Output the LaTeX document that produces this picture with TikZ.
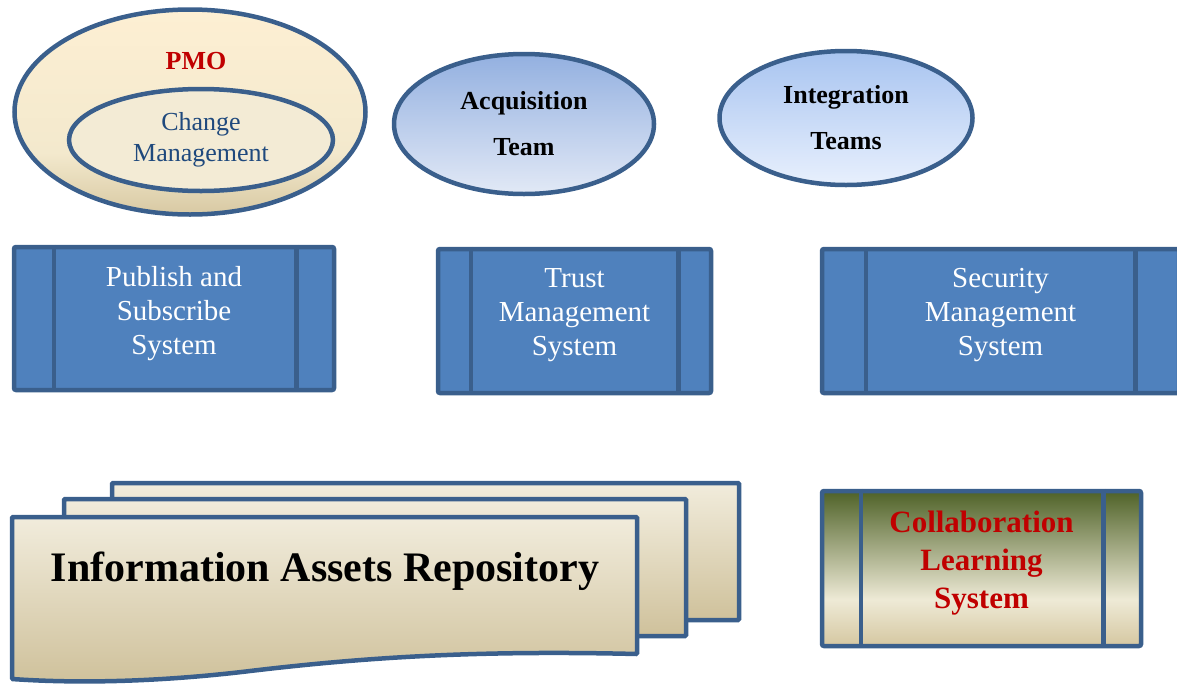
\documentclass[tikz,border=0pt]{standalone}
\usepackage{fontspec}
\setmainfont{Liberation Serif}
\usetikzlibrary{shapes.geometric}
\definecolor{edgeblue}{HTML}{3A5F8C}
\definecolor{boxblue}{HTML}{4F81BD}
\definecolor{pmored}{HTML}{C00000}
\definecolor{cmtext}{HTML}{1F497D}
\definecolor{creamtop}{HTML}{FDEFD3}
\definecolor{creammid}{HTML}{F3E9CD}
\definecolor{creambot}{HTML}{D8C9A3}
\definecolor{innerfill}{HTML}{F3EBD5}
\definecolor{acqtop}{HTML}{93B0E0}
\definecolor{acqbot}{HTML}{E2E9F6}
\definecolor{integtop}{HTML}{A8C4F0}
\definecolor{integbot}{HTML}{E8F0FD}
\definecolor{papertop}{HTML}{F1ECDC}
\definecolor{paperbot}{HTML}{CFC19B}
\definecolor{coltop}{HTML}{4F6228}
\definecolor{colmid}{HTML}{EEEAD6}
\definecolor{colbot}{HTML}{D5C7A1}
\pgfdeclareverticalshading{collabfill}{100bp}{color(0bp)=(colbot); color(25bp)=(colbot); color(40bp)=(colmid); color(75bp)=(coltop); color(100bp)=(coltop)}
\pgfdeclareverticalshading{pmofill}{100bp}{color(0bp)=(creambot); color(25bp)=(creambot); color(40bp)=(creammid); color(75bp)=(creamtop); color(100bp)=(creamtop)}
\tikzset{
	team/.style={ellipse, draw=edgeblue, line width=4.5pt, inner sep=0pt, align=center},
	sysbox/.style={rectangle, draw=edgeblue, line width=4.5pt, rounded corners=2pt, inner sep=0pt},
	divider/.style={edgeblue, line width=4.5pt},
	systext/.style={align=center, text=white, font=\fontsize{29}{34}\selectfont},
	paper/.style={draw=edgeblue, line width=4.5pt, rounded corners=1pt, top color=papertop, bottom color=paperbot}
}
\begin{document}
\begin{tikzpicture}[x=1pt, y=-1pt]
	\useasboundingbox (0,0) rectangle (1177,683);

	\node[team, minimum width=351pt, minimum height=205pt, shading=pmofill] (pmo) at (190,112) {};
	\node[text=pmored, font=\bfseries\fontsize{26}{31}\selectfont] (pmolabel) at (196,61) {PMO};
	\node[team, minimum width=264pt, minimum height=102pt, fill=innerfill, text=cmtext, font=\fontsize{26}{31}\selectfont] (change) at (201,140) {Change\\Management};

	\node[team, minimum width=260pt, minimum height=140pt, top color=acqtop, bottom color=acqbot, font=\bfseries\fontsize{26}{46}\selectfont] (acq) at (524,124) {Acquisition\\Team};
	\node[team, minimum width=253pt, minimum height=134pt, top color=integtop, bottom color=integbot, font=\bfseries\fontsize{26}{46}\selectfont] (integ) at (846,118) {Integration\\Teams};

	\node[sysbox, fill=boxblue, minimum width=320pt, minimum height=143pt] (pubsub) at (174,318.5) {};
	\draw[divider] ([xshift=42pt]pubsub.north west) -- ([xshift=42pt]pubsub.south west);
	\draw[divider] ([xshift=-40pt]pubsub.north east) -- ([xshift=-40pt]pubsub.south east);
	\node[systext] (pubsubtext) at ([yshift=5pt]pubsub.center) {Publish and\\Subscribe\\System};

	\node[sysbox, fill=boxblue, minimum width=273pt, minimum height=144pt] (trust) at (574.5,321) {};
	\draw[divider] ([xshift=35pt]trust.north west) -- ([xshift=35pt]trust.south west);
	\draw[divider] ([xshift=-35pt]trust.north east) -- ([xshift=-35pt]trust.south east);
	\node[systext] (trusttext) at ([yshift=6pt]trust.center) {Trust\\Management\\System};

	\node[sysbox, fill=boxblue, minimum width=357pt, minimum height=144pt] (secur) at (1000.5,321) {};
	\draw[divider] ([xshift=46pt]secur.north west) -- ([xshift=46pt]secur.south west);
	\draw[divider] ([xshift=-46pt]secur.north east) -- ([xshift=-46pt]secur.south east);
	\node[systext] (securtext) at ([yshift=6pt]secur.center) {Security\\Management\\System};

	\draw[paper] (112,483) rectangle (739,620);
	\draw[paper] (64,499) rectangle (686,636);
	\draw[paper] (12,517) -- (637,517) -- (637,654) .. controls (470,650) and (360,658) .. (250,671) .. controls (150,683) and (70,683) .. (12,679) -- cycle;
	\node[font=\bfseries\fontsize{42}{50}\selectfont] (repo) at (325,571) {Information Assets Repository};

	\node[sysbox, shading=collabfill, minimum width=319pt, minimum height=155pt] (collab) at (981.5,568.5) {};
	\draw[divider] ([xshift=41pt]collab.north west) -- ([xshift=41pt]collab.south west);
	\draw[divider] ([xshift=-40pt]collab.north east) -- ([xshift=-40pt]collab.south east);
	\node[align=center, text=pmored, font=\bfseries\fontsize{31}{38}\selectfont] (collabtext) at ([yshift=5pt]collab.center) {Collaboration\\Learning\\System};
\end{tikzpicture}
\end{document}
